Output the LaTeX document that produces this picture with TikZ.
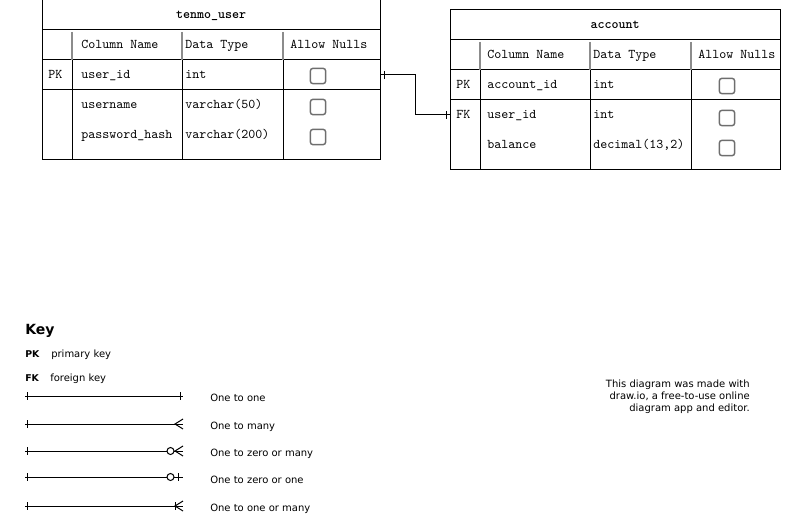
\documentclass[tikz,border=0pt]{standalone}
\usepackage{fontspec}
\setmainfont{DejaVu Sans}
\usepackage{tikz}
\usetikzlibrary{positioning,calc}
\usepackage{xcolor}
\definecolor{cbgray}{RGB}{110,110,110}
\definecolor{hdgray}{RGB}{140,140,140}
\tikzstyle{tbl} = [line width=0.75pt, black]
\tikzstyle{hdsep} = [line width=0.9pt, hdgray]
\tikzstyle{cell} = [anchor=base west, inner sep=0pt, font=\ttfamily\fontsize{10}{11}\selectfont]
\tikzstyle{ttl} = [anchor=base, inner sep=0pt, font=\ttfamily\bfseries\fontsize{10}{11}\selectfont]
\tikzstyle{chk} = [draw=cbgray, line width=1.1pt, rounded corners=2pt, minimum size=11.5pt, inner sep=0pt]
\tikzstyle{keytxt} = [anchor=base west, inner sep=0pt, font=\fontsize{7.5}{9}\selectfont]
\tikzstyle{erline} = [line width=0.75pt, black]

\begin{document}
\begin{tikzpicture}[x=0.75pt, y=-0.75pt]
    \useasboundingbox (0,0) rectangle (806,524);

    % tenmo_user table
    \draw[tbl] (42,0) rectangle (380,160);
    \draw[tbl] (42,30) -- (380,30);
    \draw[tbl] (42,60) -- (380,60);
    \draw[tbl] (42,90) -- (380,90);
    \draw[hdsep] (72,32) -- (72,60);
    \draw[hdsep] (182,32) -- (182,60);
    \draw[hdsep] (283,32) -- (283,60);
    \draw[tbl] (72,60) -- (72,160);
    \draw[tbl] (182,60) -- (182,160);
    \draw[tbl] (283,60) -- (283,160);
    \node[ttl] (uTitle) at (211,19) {tenmo\_user};
    \node[cell] (uColName) at (81,49) {Column Name};
    \node[cell] (uDataType) at (185,49) {Data Type};
    \node[cell] (uNulls) at (290,49) {Allow Nulls};
    \node[cell] (uPK) at (48,79) {PK};
    \node[cell] (uId) at (81,79) {user\_id};
    \node[cell] (uIdType) at (185,79) {int};
    \node[chk] (uIdChk) at (318,76) {};
    \node[cell] (uName) at (81,109) {username};
    \node[cell] (uNameType) at (185,109) {varchar(50)};
    \node[chk] (uNameChk) at (318,107) {};
    \node[cell] (uHash) at (81,139) {password\_hash};
    \node[cell] (uHashType) at (185,139) {varchar(200)};
    \node[chk] (uHashChk) at (318,137) {};

    % account table
    \draw[tbl] (450,10) rectangle (780,170);
    \draw[tbl] (450,40) -- (780,40);
    \draw[tbl] (450,70) -- (780,70);
    \draw[tbl] (450,100) -- (780,100);
    \draw[hdsep] (480,42) -- (480,70);
    \draw[hdsep] (590,42) -- (590,70);
    \draw[hdsep] (691,42) -- (691,70);
    \draw[tbl] (480,70) -- (480,170);
    \draw[tbl] (590,70) -- (590,170);
    \draw[tbl] (691,70) -- (691,170);
    \node[ttl] (aTitle) at (615,29) {account};
    \node[cell] (aColName) at (487,59) {Column Name};
    \node[cell] (aDataType) at (593,59) {Data Type};
    \node[cell] (aNulls) at (698,59) {Allow Nulls};
    \node[cell] (aPK) at (456,89) {PK};
    \node[cell] (aId) at (487,89) {account\_id};
    \node[cell] (aIdType) at (593,89) {int};
    \node[chk] (aIdChk) at (727,86) {};
    \node[cell] (aFK) at (456,119) {FK};
    \node[cell] (aUser) at (487,119) {user\_id};
    \node[cell] (aUserType) at (593,119) {int};
    \node[chk] (aUserChk) at (727,118) {};
    \node[cell] (aBal) at (487,149) {balance};
    \node[cell] (aBalType) at (593,149) {decimal(13,2)};
    \node[chk] (aBalChk) at (727,148) {};

    % Relation user_id -> user_id
    \coordinate (uIdEnd) at (380,75);
    \coordinate (aUserEnd) at (450,115);
    \draw[erline] (uIdEnd) -- ++(35,0) |- (aUserEnd);
    \draw[erline] ($(uIdEnd)+(4.5,-4)$) -- ++(0,8);
    \draw[erline] ($(aUserEnd)+(-4,-4)$) -- ++(0,8);

    % Key
    \node[anchor=base west, inner sep=0pt, font=\bfseries\fontsize{10.5}{12}\selectfont] (keyTitle) at (25,334) {Key};
    \node[keytxt, font=\bfseries\fontsize{7}{9}\selectfont] (keyPK) at (25,357) {PK};
    \node[keytxt] (keyPKtxt) at (51,357) {primary key};
    \node[keytxt, font=\bfseries\fontsize{7}{9}\selectfont] (keyFK) at (25,381) {FK};
    \node[keytxt] (keyFKtxt) at (50,381) {foreign key};

    % one to one
    \coordinate (k1a) at (25,396);
    \coordinate (k1b) at (183,396);
    \draw[erline] (k1a) -- (k1b);
    \draw[erline] ($(k1a)+(2,-4)$) -- ++(0,8);
    \draw[erline] ($(k1b)+(-3,-4)$) -- ++(0,8);
    \node[keytxt] (k1txt) at (210,401) {One to one};

    % one to many
    \coordinate (k2a) at (25,424);
    \coordinate (k2b) at (183,424);
    \draw[erline] (k2a) -- (k2b);
    \draw[erline] ($(k2a)+(2,-4)$) -- ++(0,8);
    \draw[erline] ($(k2b)+(0,-5)$) -- ++(-8,5) -- ++(8,5);
    \node[keytxt] (k2txt) at (210,429) {One to many};

    % one to zero or many
    \coordinate (k3a) at (25,451);
    \coordinate (k3b) at (183,451);
    \draw[erline] (k3a) -- (k3b);
    \draw[erline] ($(k3a)+(2,-4)$) -- ++(0,8);
    \draw[erline, fill=white] ($(k3b)+(-12.5,0)$) circle (3.5);
    \draw[erline] ($(k3b)+(0,-5)$) -- ++(-8,5) -- ++(8,5);
    \node[keytxt] (k3txt) at (210,456) {One to zero or many};

    % one to zero or one
    \coordinate (k4a) at (25,477);
    \coordinate (k4b) at (183,477);
    \draw[erline] (k4a) -- (k4b);
    \draw[erline] ($(k4a)+(2,-4)$) -- ++(0,8);
    \draw[erline, fill=white] ($(k4b)+(-12.5,0)$) circle (3.5);
    \draw[erline] ($(k4b)+(-5,-4)$) -- ++(0,8);
    \node[keytxt] (k4txt) at (210,483) {One to zero or one};

    % one to one or many
    \coordinate (k5a) at (25,506);
    \coordinate (k5b) at (183,506);
    \draw[erline] (k5a) -- (k5b);
    \draw[erline] ($(k5a)+(2,-4)$) -- ++(0,8);
    \draw[erline] ($(k5b)+(-8,-4)$) -- ++(0,8);
    \draw[erline] ($(k5b)+(0,-5)$) -- ++(-8,5) -- ++(8,5);
    \node[keytxt] (k5txt) at (210,511) {One to one or many};

    % Note
    \node[anchor=north east, align=right, inner sep=0pt, font=\fontsize{7.5}{9}\selectfont] (note) at (750,380) {This diagram was made with\\draw.io, a free-to-use online\\diagram app and editor.};
\end{tikzpicture}
\end{document}
